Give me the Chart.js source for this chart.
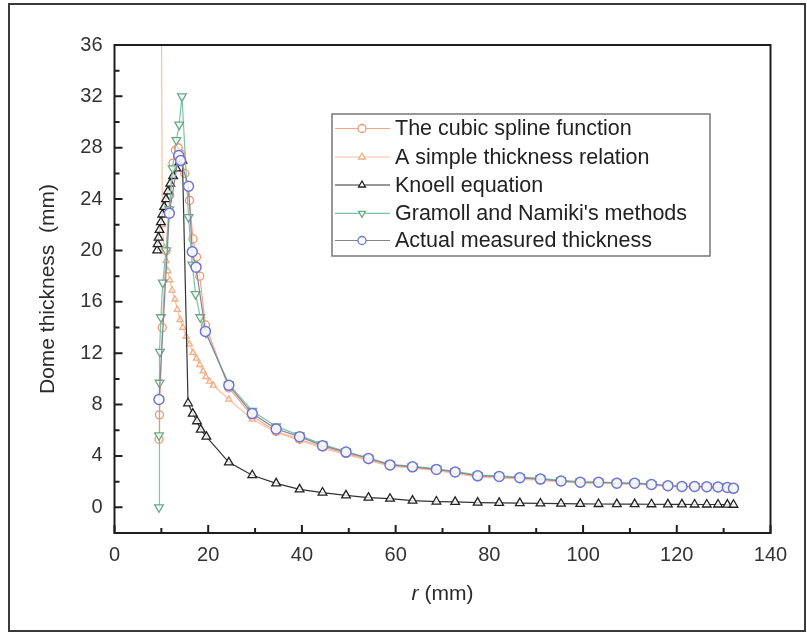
<!DOCTYPE html>
<html><head><meta charset="utf-8">
<script src="https://cdn.jsdelivr.net/npm/chart.js@4/dist/chart.umd.min.js"></script>
<style>html,body{margin:0;padding:0;background:#fff}canvas{display:block}</style>
</head><body>
<canvas id="c" width="807" height="634"></canvas>
<script>
// ---- data ----
const splineX = [9.5, 9.6, 10.2, 11.0, 11.8, 12.5, 13.0, 13.6, 14.2, 15.0, 16.0, 16.75, 17.5, 18.2, 19.4, 24.4, 29.4, 34.5, 39.5, 44.4, 49.4, 54.2, 58.8, 63.6, 68.7, 72.7, 77.5, 82.1, 86.5, 90.9, 95.3, 99.4, 103.3, 107.2, 111.0, 114.6, 118.1, 121.1, 123.8, 126.4, 128.8, 130.8, 132.1];
const splineY = [5.3, 7.2, 14.0, 20.0, 24.3, 26.8, 27.8, 28.0, 27.5, 26.0, 23.9, 20.9, 19.5, 18.0, 14.2, 9.3, 7.1, 5.9, 5.3, 4.7, 4.2, 3.7, 3.25, 3.1, 2.9, 2.7, 2.4, 2.35, 2.25, 2.15, 2.0, 1.9, 1.9, 1.85, 1.82, 1.75, 1.65, 1.6, 1.6, 1.58, 1.56, 1.52, 1.45];

const simpleX = [9.8, 10.2, 10.6, 11.0, 11.4, 11.8, 12.3, 12.9, 13.4, 14.0, 14.6, 15.3, 16.0, 16.75, 17.5, 18.2, 18.9, 19.5, 20.3, 21.1, 24.4, 29.4, 34.5, 39.5, 44.4, 49.4, 54.2, 58.8, 63.6, 68.7, 72.7, 77.5, 82.1, 86.5, 90.9, 95.3, 99.4, 103.3, 107.2, 111.0, 114.6, 118.1, 121.1, 123.8, 126.4, 128.8, 130.8, 132.1];
const simpleY = [60, 22, 20.2, 19.2, 18.4, 17.7, 16.9, 16.2, 15.4, 14.6, 14.0, 13.3, 12.7, 12.05, 11.6, 11.1, 10.6, 10.15, 9.8, 9.5, 8.4, 6.85, 5.85, 5.2, 4.6, 4.1, 3.65, 3.2, 3.05, 2.85, 2.65, 2.35, 2.3, 2.2, 2.1, 1.98, 1.88, 1.88, 1.83, 1.8, 1.72, 1.63, 1.58, 1.58, 1.55, 1.53, 1.5, 1.43];

const knoellX = [9.1, 9.2, 9.4, 9.6, 9.9, 10.2, 10.6, 11.0, 11.4, 11.9, 12.5, 13.2, 13.9, 14.5, 15.7, 16.7, 17.6, 18.4, 19.6, 24.4, 29.4, 34.5, 39.5, 44.4, 49.4, 54.2, 58.8, 63.6, 68.7, 72.7, 77.5, 82.1, 86.5, 90.9, 95.3, 99.4, 103.3, 107.2, 111.0, 114.6, 118.1, 121.1, 123.8, 126.4, 128.8, 130.8, 132.1];
const knoellY = [20.0, 20.5, 21.0, 21.6, 22.2, 22.8, 23.4, 24.0, 24.6, 25.2, 25.8, 26.4, 26.9, 27.0, 8.1, 7.3, 6.7, 6.05, 5.5, 3.5, 2.5, 1.87, 1.4, 1.15, 0.93, 0.75, 0.67, 0.52, 0.45, 0.42, 0.37, 0.35, 0.33, 0.3, 0.28, 0.27, 0.26, 0.25, 0.25, 0.24, 0.23, 0.23, 0.22, 0.22, 0.22, 0.21, 0.2];

const gramollX = [9.5, 9.5, 9.6, 9.7, 9.9, 10.3, 11.0, 11.7, 12.4, 13.2, 13.8, 14.4, 15.8, 16.6, 17.3, 18.3, 19.5, 24.4, 29.4, 34.5, 39.5, 44.4, 49.4, 54.2, 58.8, 63.6, 68.7, 72.7, 77.5, 82.1, 86.5, 90.9, 95.3, 99.4, 103.3, 107.2, 111.0, 114.6, 118.1, 121.1, 123.8, 126.4, 128.8, 130.8, 132.1];
const gramollY = [0, 5.6, 9.7, 12.1, 14.8, 17.5, 20.0, 23.2, 26.4, 28.6, 29.8, 32.0, 22.6, 18.9, 16.6, 14.8, 13.6, 9.6, 7.5, 6.3, 5.6, 4.9, 4.35, 3.85, 3.35, 3.2, 3.0, 2.8, 2.5, 2.45, 2.35, 2.25, 2.1, 2.0, 1.98, 1.9, 1.9, 1.8, 1.7, 1.65, 1.63, 1.62, 1.6, 1.56, 1.5];

const measuredX = [9.5, 11.7, 13.7, 14.1, 15.8, 16.6, 17.4, 19.4, 24.4, 29.4, 34.5, 39.5, 44.4, 49.4, 54.2, 58.8, 63.6, 68.7, 72.7, 77.5, 82.1, 86.5, 90.9, 95.3, 99.4, 103.3, 107.2, 111.0, 114.6, 118.1, 121.1, 123.8, 126.4, 128.8, 130.8, 132.1];
const measuredY = [8.4, 22.9, 27.4, 27.0, 25.0, 19.9, 18.7, 13.7, 9.5, 7.3, 6.1, 5.5, 4.8, 4.3, 3.8, 3.3, 3.15, 2.95, 2.75, 2.45, 2.4, 2.3, 2.2, 2.05, 1.95, 1.95, 1.88, 1.87, 1.78, 1.68, 1.62, 1.62, 1.6, 1.58, 1.55, 1.48];

const seriesNames = ['The cubic spline function', 'A simple thickness relation', 'Knoell equation', "Gramoll and Namiki's methods", 'Actual measured thickness'];
const xTicks = [0, 20, 40, 60, 80, 100, 120, 140];
const yTicks = [0, 4, 8, 12, 16, 20, 24, 28, 32, 36];

const pts = (xs, ys) => xs.map((x, i) => ({x, y: ys[i]}));
const FONT = '"Liberation Sans", Arial, sans-serif';

const datasets = [
  {label: seriesNames[0], data: pts(splineX, splineY), borderColor: '#f3a68c', pointBorderColor: '#ee9572', pointBackgroundColor: 'rgba(255,255,255,0.6)', pointStyle: 'circle', pointRadius: 4, borderWidth: 1.2, pointBorderWidth: 1.3, order: 4},
  {label: seriesNames[1], data: pts(simpleX, simpleY), borderColor: '#f6c2a0', pointBorderColor: '#f2ae84', pointBackgroundColor: 'rgba(255,255,255,0.6)', pointStyle: 'triangle', pointRadius: 3.5, borderWidth: 1.2, pointBorderWidth: 1.3, order: 3},
  {label: seriesNames[2], data: pts(knoellX, knoellY), borderColor: '#333333', pointBorderColor: '#222222', pointBackgroundColor: 'rgba(255,255,255,0.8)', pointStyle: 'triangle', pointRadius: 5, borderWidth: 1.2, pointBorderWidth: 1.3, order: 2},
  {label: seriesNames[3], data: pts(gramollX, gramollY), borderColor: '#7cc4a6', pointBorderColor: '#6aa886', pointBackgroundColor: 'rgba(255,255,255,0.8)', pointStyle: 'triangle', pointRotation: 180, pointRadius: 5, borderWidth: 1.2, pointBorderWidth: 1.3, order: 1},
  {label: seriesNames[4], data: pts(measuredX, measuredY), borderColor: '#85859a', pointBorderColor: '#6f74d6', pointBackgroundColor: 'rgba(255,255,255,0.85)', pointStyle: 'circle', pointRadius: 5, borderWidth: 1.2, pointBorderWidth: 1.5, order: 0}
];

const decor = {
  id: 'decor',
  beforeDraw(chart) {
    const ctx = chart.ctx;
    ctx.save();
    ctx.fillStyle = '#fff';
    ctx.fillRect(0, 0, chart.width, chart.height);
    ctx.strokeStyle = '#3a3a3a';
    ctx.lineWidth = 2;
    ctx.strokeRect(9, 4, 796, 627);
    ctx.restore();
  },
  afterDraw(chart) {
    const ctx = chart.ctx;
    const a = chart.chartArea;
    const xs = chart.scales.x, ys = chart.scales.y;
    ctx.save();
    // plot box
    ctx.strokeStyle = '#1e1e1e';
    ctx.lineWidth = 2;
    ctx.strokeRect(a.left, a.top, a.right - a.left, a.bottom - a.top);
    // inner ticks
    ctx.lineWidth = 2;
    ctx.beginPath();
    for (let v = -2; v <= 36; v += 2) {
      const y = ys.getPixelForValue(v);
      const len = (v % 4 === 0) ? 8 : 5;
      ctx.moveTo(a.left, y); ctx.lineTo(a.left + len, y);
    }
    for (let v = 0; v <= 140; v += 10) {
      const x = xs.getPixelForValue(v);
      const len = (v % 20 === 0) ? 8 : 5;
      ctx.moveTo(x, a.bottom); ctx.lineTo(x, a.bottom - len);
    }
    ctx.stroke();
    // x title with italic r
    ctx.fillStyle = '#2a2a2a';
    ctx.textBaseline = 'middle';
    const fi = 'italic 21px ' + FONT, fn = '21px ' + FONT;
    ctx.font = fi; const w1 = ctx.measureText('r').width;
    ctx.font = fn; const w2 = ctx.measureText(' (mm)').width;
    const cx = (a.left + a.right) / 2, x0 = cx - (w1 + w2) / 2;
    ctx.font = fi; ctx.textAlign = 'left'; ctx.fillText('r', x0, 594);
    ctx.font = fn; ctx.fillText(' (mm)', x0 + w1, 594);
    // legend
    const bx = 332, by = 114, bw = 378, bh = 142;
    ctx.strokeStyle = '#777';
    ctx.lineWidth = 1.5;
    ctx.strokeRect(bx, by, bw, bh);
    const rows = [128.5, 157, 185, 213.3, 240.5];
    chart.data.datasets.forEach((ds, i) => {
      const y = rows[i];
      ctx.strokeStyle = ds.borderColor;
      ctx.lineWidth = 1.2;
      ctx.beginPath(); ctx.moveTo(335, y); ctx.lineTo(390, y); ctx.stroke();
      ctx.strokeStyle = ds.pointBorderColor;
      ctx.fillStyle = '#fff';
      ctx.lineWidth = 1.3;
      Chart.helpers.drawPoint(ctx, {pointStyle: ds.pointStyle, rotation: ds.pointRotation || 0, radius: 4, borderWidth: 1.3}, 362, y);
      ctx.fillStyle = '#222';
      ctx.font = '21.5px ' + FONT;
      ctx.textAlign = 'left';
      ctx.textBaseline = 'middle';
      ctx.fillText(ds.label, 395, y + 1);
    });
    ctx.restore();
  }
};

new Chart(document.getElementById('c'), {
  type: 'line',
  data: {datasets},
  options: {
    responsive: false,
    animation: false,
    layout: {padding: {left: 0, top: 45, right: 36.5, bottom: 0}},
    plugins: {legend: {display: false}, tooltip: {enabled: false}},
    elements: {line: {tension: 0}},
    scales: {
      x: {
        type: 'linear', min: 0, max: 140,
        afterFit: s => { s.height = 101; },
        afterBuildTicks: s => { s.ticks = xTicks.map(v => ({value: v})); },
        grid: {display: false, drawTicks: false},
        border: {display: false},
        ticks: {padding: 10, color: '#333', font: {size: 20, family: FONT}, maxRotation: 0}
      },
      y: {
        type: 'linear', min: -2, max: 36,
        afterFit: s => { s.width = 114.5; },
        afterBuildTicks: s => { s.ticks = yTicks.map(v => ({value: v})); },
        grid: {display: false, drawTicks: false},
        border: {display: false},
        ticks: {padding: 12, color: '#333', font: {size: 20, family: FONT}},
        title: {display: true, text: 'Dome thickness  (mm)', color: '#2a2a2a', font: {size: 21, family: FONT}, padding: {top: 36, bottom: 0}}
      }
    }
  },
  plugins: [decor]
});
</script>
</body></html>
